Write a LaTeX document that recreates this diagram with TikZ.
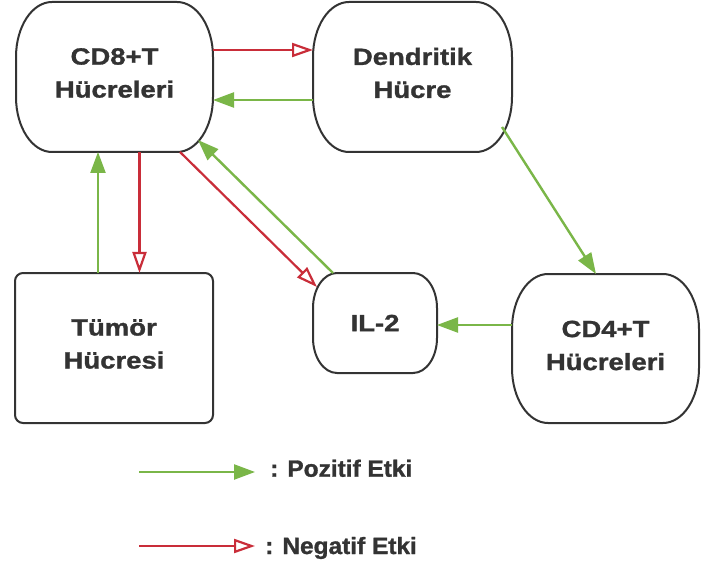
\documentclass[tikz,border=0pt]{standalone}
\usepackage{fontspec}
\usetikzlibrary{arrows.meta,calc}
\newfontfamily\lblfont{Liberation Sans}[FakeStretch=1.17,FakeBold=1.2]
\newfontfamily\keyfont{Liberation Sans}[FakeStretch=1.04,FakeBold=1.2]
\definecolor{inkgray}{HTML}{333333}
\definecolor{posgreen}{HTML}{7AB648}
\definecolor{negred}{HTML}{C92D39}

% outline with elliptical corners around an (invisible) rectangular node
\newcommand\cellframe[3]{%
  \draw[frame] ($(#1.north west)+(#2pt,0)$) -- ($(#1.north east)+(-#2pt,0)$)
    arc[start angle=90,end angle=0,x radius=#2pt,y radius=#3pt]
    -- ($(#1.south east)+(0,#3pt)$)
    arc[start angle=0,end angle=-90,x radius=#2pt,y radius=#3pt]
    -- ($(#1.south west)+(#2pt,0)$)
    arc[start angle=270,end angle=180,x radius=#2pt,y radius=#3pt]
    -- ($(#1.north west)+(0,-#3pt)$)
    arc[start angle=180,end angle=90,x radius=#2pt,y radius=#3pt] -- cycle;}

\tikzset{
  box/.style={inner sep=0pt, outer sep=0pt},
  frame/.style={draw=inkgray, line width=2pt},
  lbl/.style={inner sep=0pt, text=inkgray, align=center,
    font=\lblfont\bfseries\fontsize{23.5}{33}\selectfont},
  keytext/.style={inner sep=0pt, text=inkgray, anchor=base west,
    font=\keyfont\bfseries\fontsize{23.5}{33}\selectfont},
  posarrow/.style={draw=posgreen, line width=2.4pt,
    -{Triangle[length=21pt,width=15pt,fill=posgreen]}},
  negarrow/.style={draw=negred, line width=2.2pt,
    -{Triangle[open,length=21pt,width=14pt,fill=white]}},
}

\begin{document}
\begin{tikzpicture}[x=1pt,y=1pt]
\useasboundingbox[fill=white] (0,0) rectangle (701,563);

% boxes
\node[box, minimum width=197pt, minimum height=150pt] (cd8) at (114.5,486) {};
\node[box, minimum width=199pt, minimum height=150pt] (dend) at (412.5,486) {};
\node[box, minimum width=198pt, minimum height=150pt] (tumor) at (114,215) {};
\node[box, minimum width=124pt, minimum height=100pt] (il2) at (375,240) {};
\node[box, minimum width=187pt, minimum height=149pt] (cd4) at (605.5,214.5) {};

\cellframe{cd8}{36}{55}
\cellframe{dend}{36}{55}
\cellframe{il2}{24}{35}
\cellframe{cd4}{36}{55}
\draw[frame, rounded corners=8pt] (tumor.south west) rectangle (tumor.north east);

% labels
\node[lbl] (cd8-t) at ([yshift=4pt]cd8.center) {CD8+T\\Hücreleri};
\node[lbl] (dend-t) at ([yshift=4pt]dend.center) {Dendritik\\Hücre};
\node[lbl] (tumor-t) at ([yshift=4pt]tumor.center) {Tümör\\Hücresi};
\node[lbl] (il2-t) at (il2.center) {IL-2};
\node[lbl] (cd4-t) at ([yshift=3pt]cd4.center) {CD4+T\\Hücreleri};

% interactions
\draw[negarrow] ([yshift=27pt]cd8.east) -- ([yshift=27pt]dend.west);
\draw[posarrow] ([yshift=-23pt]dend.west) -- ([yshift=-23pt]cd8.east);
\draw[posarrow] ([xshift=-16pt]tumor.north) -- ([xshift=-16pt]tumor.north |- cd8.south);
\draw[negarrow] ([xshift=25pt]cd8.south) -- ([xshift=25pt]cd8.south |- tumor.north);
\draw[negarrow] ($(cd8.south)+(65.5,0)$) -- ($(il2.north west)+(4,-14)$);
\draw[posarrow] ($(il2.north west)+(20,0)$) -- ($(cd8.south east)+(-15,12)$);
\draw[posarrow] ($(dend.south east)+(-10,25)$) -- ($(cd4.north)+(-9.5,0)$);
\draw[posarrow] ([yshift=23.5pt]cd4.west) -- ([yshift=23.5pt]cd4.west -| il2.east);

% key
\node[keytext] (pos-t) at (270,86.3) {: Pozitif Etki};
\node[keytext] (neg-t) at (265,9) {: Negatif Etki};
\coordinate (pos-a) at (139,91);
\coordinate (pos-b) at (255,91);
\coordinate (neg-a) at (139,17);
\coordinate (neg-b) at (255,17);
\draw[posarrow] (pos-a) -- (pos-b);
\draw[negarrow] (neg-a) -- (neg-b);
\end{tikzpicture}
\end{document}
